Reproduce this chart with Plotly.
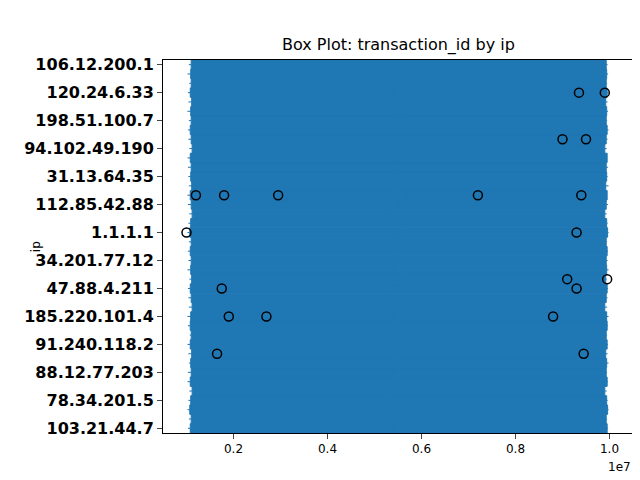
import plotly.graph_objects as go

ips = ["103.21.44.7", "45.76.12.90", "192.168.0.14", "78.34.201.5", "10.0.3.118",
       "172.16.8.41", "88.12.77.203", "201.44.9.66", "5.188.10.77", "91.240.118.2",
       "13.57.210.9", "66.249.70.31", "185.220.101.4", "23.95.44.150", "139.59.12.8",
       "47.88.4.211", "104.244.72.6", "162.158.1.93", "34.201.77.12", "52.14.9.240",
       "8.8.4.4", "1.1.1.1", "195.54.160.3", "61.177.172.9", "112.85.42.88",
       "218.92.0.107", "122.228.19.80", "31.13.64.35", "157.240.2.17", "212.83.150.6",
       "94.102.49.190", "141.98.10.60", "77.88.55.70", "198.51.100.7", "203.0.113.45",
       "100.64.2.9", "120.24.6.33", "180.76.15.12", "59.110.8.4", "106.12.200.1"]
lower = [1.03e6, 1.05e6, 1.02e6, 1.04e6, 1.06e6, 1.02e6, 1.03e6, 1.05e6, 1.04e6, 1.02e6,
         1.07e6, 1.03e6, 1.02e6, 1.05e6, 1.04e6, 1.03e6, 1.06e6, 1.02e6, 1.04e6, 1.03e6,
         1.05e6, 1.02e6, 1.04e6, 1.06e6, 1.03e6, 1.02e6, 1.05e6, 1.04e6, 1.03e6, 1.02e6,
         1.06e6, 1.04e6, 1.03e6, 1.05e6, 1.02e6, 1.04e6, 1.03e6, 1.06e6, 1.02e6, 1.05e6]
q1 = [1.08e6, 1.1e6, 1.07e6, 1.09e6, 1.12e6, 1.08e6, 1.1e6, 1.09e6, 1.11e6, 1.08e6,
      1.1e6, 1.08e6, 1.09e6, 1.12e6, 1.1e6, 1.08e6, 1.11e6, 1.09e6, 1.1e6, 1.08e6,
      1.1e6, 1.07e6, 1.09e6, 1.12e6, 1.1e6, 1.08e6, 1.11e6, 1.09e6, 1.1e6, 1.08e6,
      1.12e6, 1.1e6, 1.08e6, 1.1e6, 1.09e6, 1.11e6, 1.08e6, 1.1e6, 1.09e6, 1.1e6]
median = [5.4e6, 5.6e6, 5.5e6, 5.3e6, 5.7e6, 5.5e6, 5.4e6, 5.6e6, 5.5e6, 5.2e6,
          5.8e6, 5.5e6, 5.4e6, 5.6e6, 5.3e6, 5.5e6, 5.7e6, 5.4e6, 5.5e6, 5.6e6,
          5.5e6, 5.4e6, 5.6e6, 5.3e6, 5.5e6, 5.7e6, 5.4e6, 5.5e6, 5.6e6, 5.5e6,
          5.3e6, 5.6e6, 5.5e6, 5.4e6, 5.7e6, 5.5e6, 5.4e6, 5.6e6, 5.5e6, 5.4e6]
q3 = [9.95e6, 9.93e6, 9.96e6, 9.94e6, 9.9e6, 9.95e6, 9.93e6, 9.94e6, 9.92e6, 9.95e6,
      9.93e6, 9.95e6, 9.94e6, 9.9e6, 9.93e6, 9.95e6, 9.92e6, 9.94e6, 9.93e6, 9.95e6,
      9.93e6, 9.96e6, 9.94e6, 9.9e6, 9.93e6, 9.95e6, 9.92e6, 9.94e6, 9.93e6, 9.95e6,
      9.9e6, 9.93e6, 9.95e6, 9.93e6, 9.94e6, 9.92e6, 9.95e6, 9.93e6, 9.94e6, 9.93e6]
upper = [9.97e6, 9.95e6, 9.98e6, 9.96e6, 9.94e6, 9.97e6, 9.95e6, 9.98e6, 9.96e6, 9.97e6,
         9.95e6, 9.97e6, 9.98e6, 9.95e6, 9.96e6, 9.97e6, 9.94e6, 9.98e6, 9.96e6, 9.97e6,
         9.95e6, 9.98e6, 9.96e6, 9.94e6, 9.97e6, 9.95e6, 9.98e6, 9.96e6, 9.97e6, 9.95e6,
         9.94e6, 9.96e6, 9.98e6, 9.95e6, 9.97e6, 9.96e6, 9.98e6, 9.95e6, 9.97e6, 9.96e6]

out_ip = ["5.188.10.77", "5.188.10.77", "185.220.101.4", "185.220.101.4", "185.220.101.4",
          "104.244.72.6", "104.244.72.6", "1.1.1.1", "1.1.1.1", "218.92.0.107",
          "218.92.0.107", "218.92.0.107", "218.92.0.107", "218.92.0.107", "141.98.10.60",
          "141.98.10.60", "120.24.6.33", "120.24.6.33", "47.88.4.211", "47.88.4.211"]
out_val = [1.65e6, 9.45e6, 1.9e6, 2.7e6, 8.8e6,
           9.1e6, 9.95e6, 1.0e6, 9.3e6, 1.2e6,
           1.8e6, 2.95e6, 7.2e6, 9.4e6, 9.0e6,
           9.5e6, 9.35e6, 9.9e6, 1.75e6, 9.3e6]

fig = go.Figure()
fig.add_trace(go.Box(
    y=ips, q1=q1, median=median, q3=q3, lowerfence=lower, upperfence=upper,
    orientation="h", fillcolor="#1f77b4", line=dict(color="#1f77b4", width=1),
    width=1.0, whiskerwidth=0, showlegend=False, boxpoints=False, hoverinfo="skip"))
fig.add_trace(go.Scatter(
    x=out_val, y=out_ip, mode="markers",
    marker=dict(symbol="circle-open", size=9, color="black", line=dict(width=1.5)),
    showlegend=False))

fig.update_layout(
    width=640, height=480, plot_bgcolor="white", paper_bgcolor="white",
    margin=dict(l=155, r=15, t=52, b=55),
    font=dict(family="DejaVu Sans", color="black", size=12),
    title=dict(text="Box Plot: transaction_id by ip", x=0.61, xanchor="center",
               y=0.935, font=dict(size=16)),
)
fig.update_xaxes(range=[0.5e6, 1.05e7], tickvals=[2e6, 4e6, 6e6, 8e6, 1e7],
                 ticktext=["0.2", "0.4", "0.6", "0.8", "1.0"],
                 showline=True, mirror=True, linecolor="black", ticks="outside",
                 showgrid=False, zeroline=False)
fig.update_yaxes(automargin=False, categoryorder="array",
                 categoryarray=ips, range=[-0.5, len(ips) - 0.5],
                 showline=True, mirror=True, linecolor="black", ticks="outside",
                 tickfont=dict(size=16, color="black", weight="bold"),
                 showgrid=False, zeroline=False)
fig.add_annotation(text="ip", xref="paper", yref="paper", x=-0.29, y=0.5,
                   textangle=-90, showarrow=False, font=dict(size=12))
fig.add_annotation(text="1e7", xref="paper", yref="paper", x=1.0, y=-0.115,
                   xanchor="right", showarrow=False, font=dict(size=12))
fig.write_html("out.html")
